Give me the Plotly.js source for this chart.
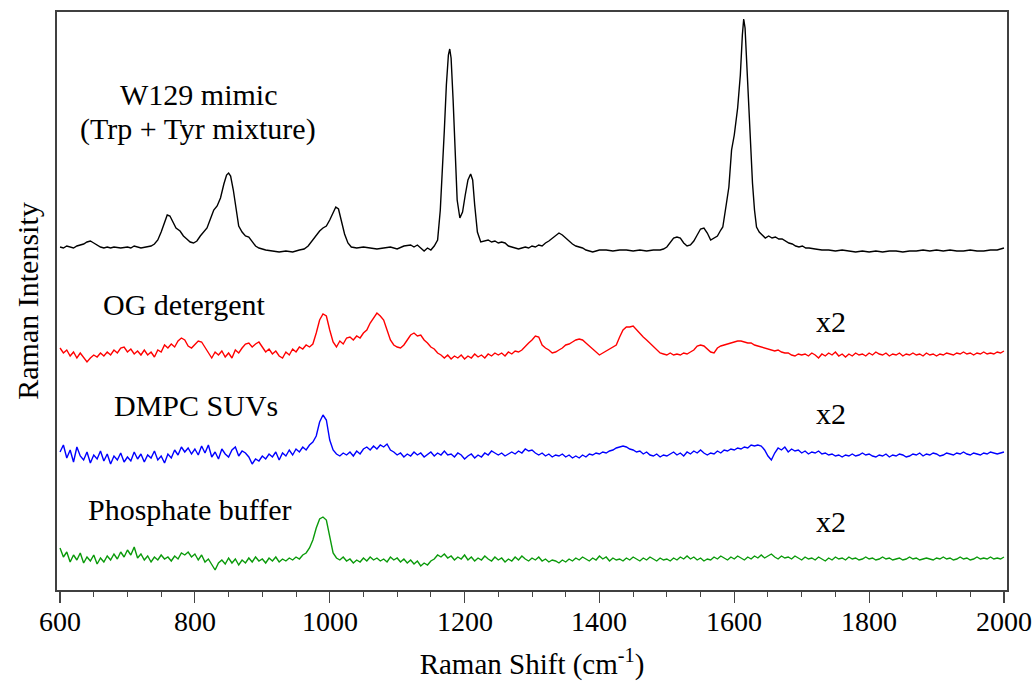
<!DOCTYPE html>
<html>
<head>
<meta charset="utf-8">
<script src="https://cdn.plot.ly/plotly-3.0.1.min.js"></script>
<style>html,body{margin:0;padding:0;background:#fff;}#chart{width:1036px;height:690px;}</style>
</head>
<body>
<div id="chart"></div>
<script>
// ---- Data (intensities in display units, offsets included) ----
const blackShift = [600,605,610,615,620,625,630,635,640,645,650,655,660,665,670,675,680,690,700,705,710,720,730,735,740,745,750,755,759,763,767,772,778,783,788,793,798,803,808,813,818,823,828,833,838,843,847,850,853,857,861,865,870,875,880,885,890,895,905,915,925,935,945,955,962,968,975,980,985,990,995,1000,1005,1009,1013,1017,1022,1027,1032,1040,1050,1060,1070,1080,1090,1100,1110,1120,1125,1130,1135,1140,1145,1150,1155,1160,1164,1167,1170,1173,1176,1178,1180,1183,1186,1189,1193,1197,1201,1205,1209,1212,1215,1219,1224,1230,1235,1240,1245,1250,1255,1260,1265,1270,1275,1280,1285,1290,1295,1300,1305,1310,1315,1320,1325,1330,1335,1340,1345,1350,1355,1360,1365,1370,1375,1380,1385,1390,1395,1400,1410,1420,1430,1440,1450,1460,1470,1480,1490,1495,1500,1505,1510,1515,1520,1525,1530,1535,1540,1545,1550,1555,1560,1565,1570,1575,1580,1583,1588,1592,1596,1600,1605,1609,1612,1614,1616,1618,1621,1624,1627,1630,1633,1637,1641,1646,1651,1656,1661,1666,1671,1676,1681,1686,1691,1696,1701,1706,1711,1720,1730,1740,1750,1760,1770,1780,1790,1800,1810,1820,1830,1840,1850,1860,1870,1880,1890,1900,1910,1920,1930,1940,1950,1960,1970,1980,1990,1995,2000];
const blackIntensity = [343,342,344,343,342,344,345,346,348,349,347,345,343,342,343,342,343,342,343,342,344,342,343,344,346,350,358,368,375,374,368,362,359,354,351,348,347,349,354,358,362,371,380,384,392,406,415,417,414,400,380,364,358,354,353,349,344,342,340,339,338,339,338,340,341,344,350,355,359,362,364,370,378,383,381,370,356,347,343,342,343,342,341,342,343,341,344,345,343,345,342,339,342,340,344,350,380,415,460,505,535,541,532,490,440,390,372,378,395,410,416,410,385,358,348,349,350,348,349,347,348,347,344,343,342,341,342,343,342,344,343,345,344,347,349,352,355,357,355,352,349,346,344,343,342,340,339,338,339,340,340,339,340,340,339,340,339,340,340,341,343,347,352,353,352,347,344,345,349,355,361,362,357,350,352,354,360,363,385,403,440,455,482,515,555,571,562,535,490,440,407,380,363,358,355,352,354,352,353,351,351,349,347,346,344,343,344,342,342,341,340,340,339,340,339,338,339,338,339,338,339,339,338,339,339,340,339,340,339,340,339,339,340,339,339,340,340,341,342];

// Regular grid for the three x2 traces: 600 to 2000 cm-1, 5 cm-1 steps
const gridStart = 600, gridStep = 5;
const ogIntensity = [
 242,237,240,234,238,232,237,233,228,232,235,233,237,234,238,235,240,237,242,243,
 238,241,236,239,235,240,235,238,233,240,238,245,242,246,243,249,252,250,244,242,
 246,249,248,243,238,232,238,235,239,233,237,232,240,237,242,246,247,243,246,248,
 243,238,241,236,239,234,232,238,235,241,238,243,241,245,243,246,257,270,276,274,
 260,248,243,249,246,252,253,250,254,252,257,260,267,272,277,274,270,260,250,245,
 243,242,245,250,255,257,254,255,250,247,243,241,237,235,232,235,231,234,232,235,
 231,234,232,236,233,235,232,236,234,237,235,237,234,238,236,239,238,240,244,247,
 250,254,253,245,242,240,237,238,240,242,245,246,248,250,251,250,247,244,241,238,
 235,237,239,241,243,245,253,260,263,263,264,260,256,253,250,247,244,240,237,236,
 235,237,235,236,235,237,236,238,240,244,245,244,241,238,237,242,244,245,246,247,
 248,249,249,248,247,247,245,244,243,242,241,240,239,240,238,237,237,235,234,236,
 235,236,234,237,235,232,236,234,237,235,238,234,236,233,236,234,237,235,236,234,
 237,235,238,236,235,237,234,236,235,237,234,236,235,237,235,236,234,237,235,236,
 234,236,235,237,236,235,237,236,238,236,237,235,237,236,238,236,237,236,238,237,
 239];
const dmpcIntensity = [
 138,145,132,140,128,143,134,130,138,127,135,131,139,129,136,126,134,130,137,128,
 133,129,138,131,136,128,135,132,139,130,134,127,136,132,140,135,143,138,142,136,
 141,135,144,137,145,133,138,131,141,136,133,140,143,134,139,137,133,126,131,129,
 134,131,136,133,138,130,137,134,140,135,141,138,143,140,145,148,154,168,175,170,
 150,140,136,134,137,135,138,134,139,136,141,143,140,144,141,145,143,146,140,138,
 135,137,133,136,134,138,135,137,133,136,138,134,137,135,139,135,136,133,137,135,
 131,134,136,132,135,133,137,135,139,137,135,137,134,136,138,136,139,137,141,139,
 140,137,135,137,134,136,133,135,134,136,133,135,132,134,132,135,133,136,135,137,
 136,138,137,139,140,142,143,144,143,141,140,138,139,136,138,135,134,136,133,135,
 134,136,138,135,137,134,138,136,139,137,140,137,135,137,136,139,137,140,139,141,
 140,142,141,143,142,145,144,145,144,140,134,130,137,142,140,143,138,141,139,140,
 137,139,136,138,137,139,136,137,135,136,134,135,133,135,134,136,134,135,137,135,
 136,134,133,135,134,136,133,135,134,136,135,133,134,136,135,137,134,136,135,137,
 136,134,135,137,136,135,137,136,138,136,135,137,136,135,137,136,138,137,136,137,
 138];
const bufferIntensity = [
 42,33,38,28,35,30,37,27,33,29,35,26,32,28,34,30,36,31,38,33,
 40,35,43,32,36,30,34,28,33,30,35,31,33,29,34,31,37,35,38,33,
 36,30,35,28,31,25,20,27,30,26,32,27,31,25,30,27,32,28,33,29,
 31,27,32,29,33,28,31,29,32,30,33,31,35,37,42,50,62,71,73,70,
 52,37,32,30,33,29,31,27,30,28,32,29,33,30,32,29,31,28,33,30,
 32,28,31,27,30,26,29,24,27,25,29,31,35,33,36,32,34,30,33,31,
 35,30,33,29,32,30,34,31,29,33,30,32,28,31,29,33,30,34,31,29,
 32,30,33,29,31,28,30,29,27,30,28,31,29,32,30,33,31,29,32,30,
 34,31,33,29,32,30,31,29,32,30,33,31,29,32,30,33,31,29,32,30,
 31,29,32,30,33,31,34,31,33,30,32,29,31,30,33,31,34,32,30,33,
 31,34,32,30,33,31,34,32,35,32,34,36,33,31,34,32,33,31,34,32,
 30,33,31,32,30,33,31,29,32,30,33,31,32,30,33,31,32,30,31,33,
 31,32,30,31,33,31,32,30,31,32,30,31,33,31,32,30,31,32,31,30,
 32,31,33,31,32,30,31,33,31,32,30,31,33,31,32,31,33,31,32,31,
 33];

const xTickVals = [600,800,1000,1200,1400,1600,1800,2000];
const xTickText = ['600','800','1000','1200','1400','1600','1800','2000'];
const labels = [
  {text: 'W129 mimic', x: 805, y: 496},
  {text: '(Trp + Tyr mixture)', x: 805, y: 461},
  {text: 'OG detergent', x: 785, y: 286},
  {text: 'DMPC SUVs', x: 802, y: 185},
  {text: 'Phosphate buffer', x: 793, y: 81},
  {text: 'x2', x: 1744, y: 269},
  {text: 'x2', x: 1744, y: 177},
  {text: 'x2', x: 1744, y: 69}
];

function grid(arr){ return arr.map((_, i) => gridStart + i*gridStep); }

const traces = [
  {x: blackShift, y: blackIntensity, mode: 'lines', line: {color: '#000000', width: 1.4}},
  {x: grid(ogIntensity), y: ogIntensity, mode: 'lines', line: {color: '#ff0000', width: 1.4}},
  {x: grid(dmpcIntensity), y: dmpcIntensity, mode: 'lines', line: {color: '#0000ff', width: 1.4}},
  {x: grid(bufferIntensity), y: bufferIntensity, mode: 'lines', line: {color: '#0a9a0a', width: 1.4}}
];

const font = 'Liberation Serif, Times New Roman, serif';
const textAnn = labels.map(l => ({
  text: l.text, x: l.x, y: l.y, xref: 'x', yref: 'y', showarrow: false,
  xanchor: 'center', yanchor: 'middle', font: {family: font, size: 30, color: '#000'}
}));
// tick labels placed just under the tick marks (tighter than the default offset)
const tickAnn = xTickVals.map((v, i) => ({
  text: xTickText[i], x: v, y: 0, xref: 'x', yref: 'paper', showarrow: false,
  xanchor: 'center', yanchor: 'top', yshift: -14, font: {family: font, size: 28, color: '#000'}
}));

const layout = {
  width: 1036, height: 690,
  margin: {l: 57, r: 29, t: 12, b: 100},
  paper_bgcolor: '#ffffff', plot_bgcolor: '#ffffff',
  showlegend: false,
  font: {family: font, color: '#000', size: 28},
  xaxis: {
    range: [595.5, 2004.5], tickvals: xTickVals, showticklabels: false,
    ticks: 'outside', ticklen: 11, tickwidth: 1.2, tickcolor: '#444',
    minor: {dtick: 50, tick0: 600, ticks: 'outside', ticklen: 5, tickwidth: 1, tickcolor: '#444', showgrid: false},
    showgrid: false, zeroline: false, showline: true, linecolor: '#404040', linewidth: 1.6, mirror: true,
    title: {text: 'Raman Shift (cm<sup>-1</sup>)', font: {family: font, size: 29, color: '#000'}, standoff: 52}
  },
  yaxis: {
    range: [0, 578], showticklabels: false, ticks: '', showgrid: false, zeroline: false,
    showline: true, linecolor: '#404040', linewidth: 1.6, mirror: true,
    title: {text: 'Raman Intensity', font: {family: font, size: 30, color: '#000'}, standoff: 8}
  },
  annotations: textAnn.concat(tickAnn)
};

Plotly.newPlot('chart', traces, layout, {displayModeBar: false, staticPlot: true});
</script>
</body>
</html>
